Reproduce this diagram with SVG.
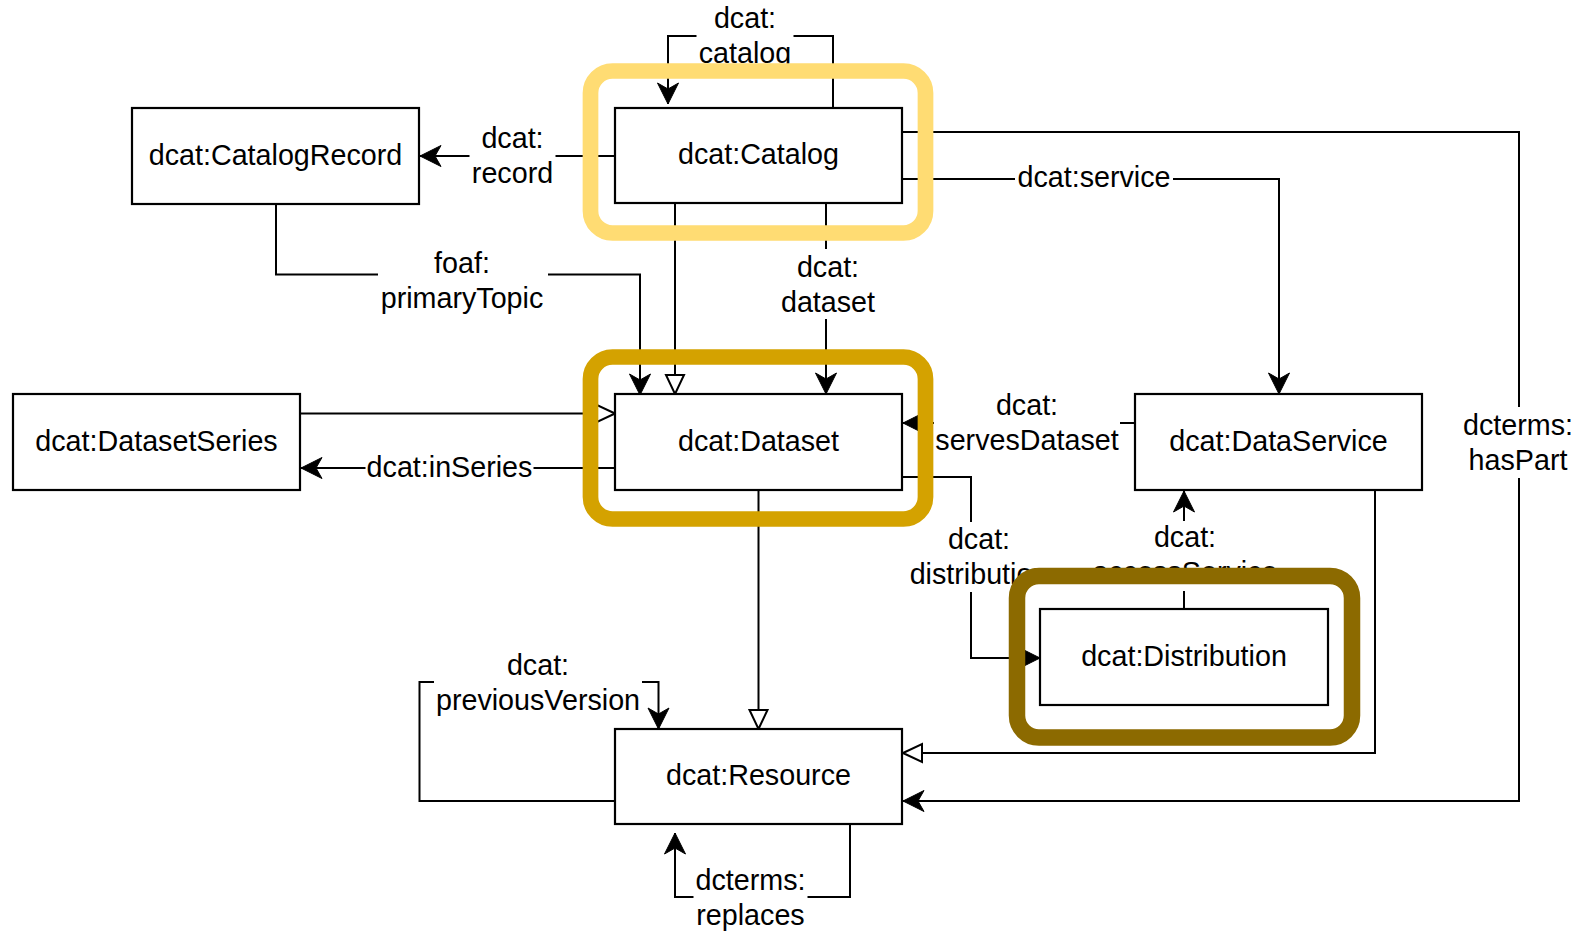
<svg xmlns="http://www.w3.org/2000/svg" width="1577" height="933" viewBox="0 0 1577 933">
<style>
.box{fill:#fff;stroke:#000;stroke-width:2.2}
.t{font-family:"Liberation Sans",Arial,sans-serif;font-size:28.7px;fill:#000;text-anchor:middle}
.c{fill:none;stroke:#000;stroke-width:2}
.bg{fill:#fff;stroke:none}
.cls{marker-end:url(#classic)}
.opn{marker-end:url(#open)}
.hl{fill:none}
</style>
<defs>
<marker id="classic" markerUnits="userSpaceOnUse" viewBox="-23 -12 25 24" refX="0" refY="0" markerWidth="25" markerHeight="24" orient="auto">
<path d="M0,0 L-21,-10.5 L-15,0 L-21,10.5 Z" fill="#000" stroke="#000" stroke-width="1" stroke-linejoin="miter"/>
</marker>
<marker id="open" markerUnits="userSpaceOnUse" viewBox="-22 -12 24 24" refX="0" refY="0" markerWidth="24" markerHeight="24" orient="auto">
<path d="M0,0 L-19,-9 L-19,9 Z" fill="#fff" stroke="#000" stroke-width="2" stroke-linejoin="miter"/>
</marker>
</defs>
<rect width="1577" height="933" fill="#fff"/>

<g id="connectors">
<path class="c cls" d="M833,108 V36 H668 V104"/>
<path class="c cls" d="M615,156 H420"/>
<path class="c cls" d="M276,204 V274.5 H640 V395"/>
<path class="c opn" d="M675,203 V394"/>
<path class="c cls" d="M826,203 V394"/>
<path class="c cls" d="M902,179 H1279 V394"/>
<path class="c cls" d="M902,132 H1519 V801 H903"/>
<path class="c opn" d="M300,413.5 H615"/>
<path class="c cls" d="M615,468 H301"/>
<path class="c cls" d="M1135,423 H903"/>
<path class="c cls" d="M902,477 H971 V658 H1040"/>
<path class="c cls" d="M1184,609 V491"/>
<path class="c opn" d="M1375,490 V753 H903"/>
<path class="c opn" d="M758.5,490 V729"/>
<path class="c cls" d="M615,801 H419.5 V682 H658.5 V729"/>
<path class="c cls" d="M850,824 V897 H675 V833"/>

<g id="labels">
<rect class="bg" x="696.5" y="16" width="97" height="40"/>
<text class="t" x="745" y="27.5">dcat:</text><text class="t" x="745" y="62.5">catalog</text>

<rect class="bg" x="469.5" y="121" width="86" height="70"/>
<text class="t" x="512.5" y="148">dcat:</text><text class="t" x="512.5" y="183">record</text>

<rect class="bg" x="378" y="244" width="170" height="70"/>
<text class="t" x="462" y="272.5">foaf:</text><text class="t" x="462" y="307.5">primaryTopic</text>

<rect class="bg" x="777" y="249" width="100" height="70"/>
<text class="t" x="828" y="276.5">dcat:</text><text class="t" x="828" y="311.5">dataset</text>

<rect class="bg" x="1015" y="163" width="158" height="32"/>
<text class="t" x="1094" y="187">dcat:service</text>

<rect class="bg" x="1461" y="407" width="114" height="71"/>
<text class="t" x="1518" y="435">dcterms:</text><text class="t" x="1518" y="470">hasPart</text>

<rect class="bg" x="365.5" y="452" width="168" height="32"/>
<text class="t" x="449.5" y="477">dcat:inSeries</text>

<rect class="bg" x="934" y="388" width="186" height="70"/>
<text class="t" x="1027" y="415">dcat:</text><text class="t" x="1027" y="450">servesDataset</text>

<rect class="bg" x="908" y="522" width="142" height="70"/>
<text class="t" x="979" y="549">dcat:</text><text class="t" x="979" y="584">distribution</text>

<rect class="bg" x="1091" y="521" width="188" height="70"/>
<text class="t" x="1185" y="547">dcat:</text><text class="t" x="1185" y="581.5">accessService</text>

<rect class="bg" x="434" y="647" width="208" height="70"/>
<text class="t" x="538" y="674.5">dcat:</text><text class="t" x="538" y="709.5">previousVersion</text>

<rect class="bg" x="693.5" y="862" width="114" height="70"/>
<text class="t" x="750.5" y="889.5">dcterms:</text><text class="t" x="750.5" y="924.5">replaces</text>
</g>
</g>

<g id="node-catalogrecord"><rect class="box" x="132" y="108" width="287" height="96"/><text class="t" x="275.5" y="164.5">dcat:CatalogRecord</text></g>
<g id="node-catalog"><rect class="box" x="615" y="108" width="287" height="95"/><text class="t" x="758.5" y="164">dcat:Catalog</text></g>
<g id="node-datasetseries"><rect class="box" x="13" y="394" width="287" height="96"/><text class="t" x="156.5" y="450.5">dcat:DatasetSeries</text></g>
<g id="node-dataset"><rect class="box" x="615" y="394" width="287" height="96"/><text class="t" x="758.5" y="450.5">dcat:Dataset</text></g>
<g id="node-dataservice"><rect class="box" x="1135" y="394" width="287" height="96"/><text class="t" x="1278.5" y="450.5">dcat:DataService</text></g>
<g id="node-distribution"><rect class="box" x="1040" y="609" width="288" height="96"/><text class="t" x="1184" y="665.5">dcat:Distribution</text></g>
<g id="node-resource"><rect class="box" x="615" y="729" width="287" height="95"/><text class="t" x="758.5" y="784.5">dcat:Resource</text></g>

<g id="highlight-catalog"><rect class="hl" x="590.5" y="71" width="335" height="162" rx="22" stroke="#FFDC73" stroke-width="15.7"/></g>
<g id="highlight-dataset"><rect class="hl" x="590.5" y="357" width="335" height="162" rx="22" stroke="#D4A200" stroke-width="15.7"/></g>
<g id="highlight-distribution"><rect class="hl" x="1017" y="576" width="335" height="161.5" rx="22" stroke="#8C6A00" stroke-width="16.5"/></g>
</svg>
